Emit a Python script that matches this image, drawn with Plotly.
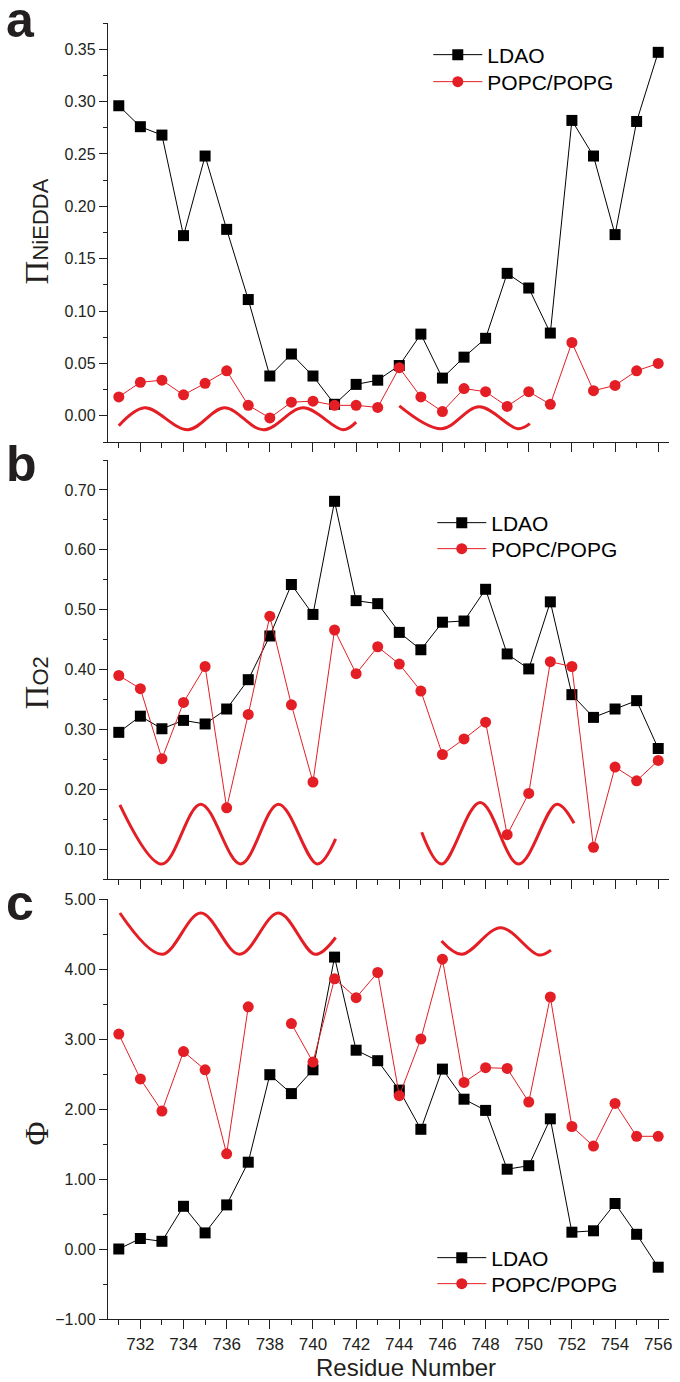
import plotly.graph_objects as go

# ---------------- data ----------------
residues = list(range(731, 757))

ldao_niedda = [0.296, 0.276, 0.268, 0.172, 0.248, 0.178, 0.111, 0.038, 0.059, 0.038,
               0.011, 0.030, 0.034, 0.048, 0.078, 0.036, 0.056, 0.074, 0.136, 0.122,
               0.079, 0.282, 0.248, 0.173, 0.281, 0.347]
popc_niedda = [0.018, 0.032, 0.034, 0.020, 0.031, 0.043, 0.010, -0.002, 0.013, 0.014,
               0.010, 0.010, 0.008, 0.046, 0.018, 0.004, 0.026, 0.023, 0.009, 0.023,
               0.011, 0.070, 0.024, 0.029, 0.043, 0.050]

ldao_o2 = [0.295, 0.322, 0.301, 0.315, 0.309, 0.334, 0.383, 0.456, 0.542, 0.492,
           0.681, 0.515, 0.510, 0.462, 0.433, 0.479, 0.481, 0.534, 0.426, 0.401,
           0.513, 0.358, 0.320, 0.334, 0.348, 0.268]
popc_o2 = [0.390, 0.368, 0.251, 0.345, 0.405, 0.169, 0.325, 0.489, 0.341, 0.212,
           0.466, 0.393, 0.438, 0.409, 0.364, 0.258, 0.284, 0.312, 0.124, 0.193,
           0.413, 0.405, 0.103, 0.237, 0.214, 0.248]

ldao_phi = [0.00, 0.15, 0.11, 0.61, 0.23, 0.63, 1.24, 2.49, 2.22, 2.56,
            4.17, 2.84, 2.69, 2.27, 1.71, 2.57, 2.14, 1.98, 1.14, 1.19,
            1.86, 0.24, 0.26, 0.65, 0.21, -0.26]
popc_phi = [3.07, 2.43, 1.97, 2.82, 2.56, 1.36, 3.46, None, 3.22, 2.67,
            3.86, 3.59, 3.95, 2.19, 3.00, 4.14, 2.38, 2.59, 2.58, 2.10,
            3.60, 1.75, 1.47, 2.08, 1.61, 1.61]

# helix schematic anchor points (start, crests/troughs, end)
helix_a1_x = [731.0, 732.2, 734.2, 735.9, 737.7, 739.55, 741.4, 742.0]
helix_a1_y = [-0.0095, 0.0076, -0.0133, 0.0076, -0.0133, 0.0076, -0.0133, -0.006]
helix_a2_x = [744.0, 745.95, 747.7, 749.5, 750.05]
helix_a2_y = [0.0095, -0.0124, 0.0086, -0.0124, -0.0075]

helix_b1_x = [731.05, 733.0, 734.8, 736.65, 738.4, 740.2, 741.05]
helix_b1_y = [0.174, 0.075, 0.175, 0.075, 0.175, 0.075, 0.117]
helix_b2_x = [745.04, 745.96, 747.75, 749.53, 751.3, 752.1]
helix_b2_y = [0.128, 0.075, 0.178, 0.075, 0.175, 0.143]

helix_c1_x = [731.05, 733.0, 734.8, 736.6, 738.4, 740.1, 741.05]
helix_c1_y = [4.80, 4.21, 4.80, 4.21, 4.80, 4.21, 4.45]
helix_c2_x = [745.96, 746.9, 748.7, 750.45, 751.03]
helix_c2_y = [4.40, 4.21, 4.59, 4.20, 4.27]

panel_letters = ["a", "b", "c"]
y_titles = ["Π<span style='font-family:Liberation Sans;font-size:22px'>NiEDDA</span>",
            "Π<span style='font-family:Liberation Sans;font-size:22px'>O2</span>",
            "Φ"]
x_title = "Residue Number"
series_names = ["LDAO", "POPC/POPG"]

# ---------------- style ----------------
W, H = 680, 1382
ML, MR, MT, MB = 108, 8, 23, 63
PW, PH = W - ML - MR, H - MT - MB
BLACK = "#000000"
RED = "#e41e25"
AX = "#231f20"
SANS = "Liberation Sans, Arial, sans-serif"
SERIF = "Liberation Serif, Times New Roman, serif"


def px2x(px):
    return (px - ML) / PW


def py2y(py):
    return (H - MB - py) / PH


def ydom(top, bot):
    return [py2y(bot), py2y(top)]


fig = go.Figure()

panels = [
    dict(ld=ldao_niedda, pp=popc_niedda, hel=[(helix_a1_x, helix_a1_y), (helix_a2_x, helix_a2_y)],
         xa="x", ya="y", legs=("legend", "legend2")),
    dict(ld=ldao_o2, pp=popc_o2, hel=[(helix_b1_x, helix_b1_y), (helix_b2_x, helix_b2_y)],
         xa="x2", ya="y2", legs=("legend3", "legend4")),
    dict(ld=ldao_phi, pp=popc_phi, hel=[(helix_c1_x, helix_c1_y), (helix_c2_x, helix_c2_y)],
         xa="x3", ya="y3", legs=("legend5", "legend6")),
]

for p in panels:
    for hx, hy in p["hel"]:
        fig.add_trace(go.Scatter(x=hx, y=hy, mode="lines", line=dict(color=RED, width=3, shape="spline", smoothing=1.0),
                                 showlegend=False, xaxis=p["xa"], yaxis=p["ya"], hoverinfo="skip"))
    fig.add_trace(go.Scatter(x=residues, y=p["ld"], name=series_names[0], mode="lines+markers",
                             line=dict(color=BLACK, width=1),
                             marker=dict(symbol="square", size=11, color=BLACK),
                             xaxis=p["xa"], yaxis=p["ya"], legend=p["legs"][0]))
    fig.add_trace(go.Scatter(x=residues, y=p["pp"], name=series_names[1], mode="lines+markers",
                             line=dict(color=RED, width=1), connectgaps=False,
                             marker=dict(symbol="circle", size=11, color=RED),
                             xaxis=p["xa"], yaxis=p["ya"], legend=p["legs"][1]))

common_x = dict(range=[730.5, 756.5], showline=True, linecolor=AX, linewidth=1.3,
                ticks="outside", tick0=732, dtick=2, ticklen=9, tickwidth=1.3, tickcolor=AX,
                minor=dict(ticks="outside", tick0=731, dtick=1, ticklen=5, tickwidth=1.3, tickcolor=AX, showgrid=False),
                showgrid=False, zeroline=False,
                tickfont=dict(family=SANS, size=17, color=AX))
common_y = dict(showline=True, linecolor=AX, linewidth=1.3, ticks="outside", ticklen=8,
                tickwidth=1.3, tickcolor=AX, showgrid=False, zeroline=False, tickformat=".2f",
                tickfont=dict(family=SANS, size=16, color=AX))

fig.update_layout(
    xaxis=dict(common_x, domain=[0, 1], anchor="y", showticklabels=False),
    xaxis2=dict(common_x, domain=[0, 1], anchor="y2", showticklabels=False),
    xaxis3=dict(common_x, domain=[0, 1], anchor="y3"),
    yaxis=dict(common_y, domain=ydom(23, 442), anchor="x", range=[-0.025, 0.375], tick0=0, dtick=0.05,
               minor=dict(ticks="outside", dtick=0.025, ticklen=4, tickwidth=1.3, tickcolor=AX, showgrid=False)),
    yaxis2=dict(common_y, domain=ydom(460, 879), anchor="x2", range=[0.05, 0.75], tick0=0.1, dtick=0.1,
                minor=dict(ticks="outside", dtick=0.05, ticklen=4, tickwidth=1.3, tickcolor=AX, showgrid=False)),
    yaxis3=dict(common_y, domain=ydom(899, 1319), anchor="x3", range=[-1, 5], tick0=0, dtick=1,
                minor=dict(ticks="outside", dtick=0.5, ticklen=4, tickwidth=1.3, tickcolor=AX, showgrid=False)),
)

leg_common = dict(xanchor="left", yanchor="middle", bgcolor="rgba(0,0,0,0)", borderwidth=0,
                  font=dict(family=SANS, size=21, color=BLACK), itemwidth=49, tracegroupgap=0)
legend_pos = [(430, 55), (430, 82), (434, 523), (434, 549), (434, 1258), (434, 1284)]
leg_layout = {}
for i, (lx, ly) in enumerate(legend_pos):
    key = "legend" if i == 0 else f"legend{i + 1}"
    leg_layout[key] = dict(leg_common, x=px2x(lx), y=py2y(ly))
fig.update_layout(**leg_layout)

annotations = []
# panel letters
for letter, cy in zip(panel_letters, [20, 464, 903]):
    annotations.append(dict(text=f"<b>{letter}</b>", x=px2x(3), y=py2y(cy), xref="paper", yref="paper",
                            xanchor="left", yanchor="middle", showarrow=False,
                            font=dict(family=SANS, size=50, color=AX)))
# y titles
for t, cy in zip(y_titles, [231, 683, 1133]):
    annotations.append(dict(text=t, x=px2x(37), y=py2y(cy), xref="paper", yref="paper",
                            xanchor="center", yanchor="middle", textangle=-90, showarrow=False,
                            font=dict(family=SERIF, size=33, color=AX)))
annotations.append(dict(text=x_title, x=px2x(408), y=py2y(1367), xref="paper", yref="paper",
                        xanchor="center", yanchor="middle", showarrow=False,
                        font=dict(family=SANS, size=24, color=AX)))

fig.update_layout(width=W, height=H, margin=dict(l=ML, r=MR, t=MT, b=MB),
                  plot_bgcolor="white", paper_bgcolor="white", annotations=annotations)

fig.write_html("out.html", config={"displayModeBar": False},
               post_script="document.body.style.margin='0';document.body.style.overflow='hidden';")
